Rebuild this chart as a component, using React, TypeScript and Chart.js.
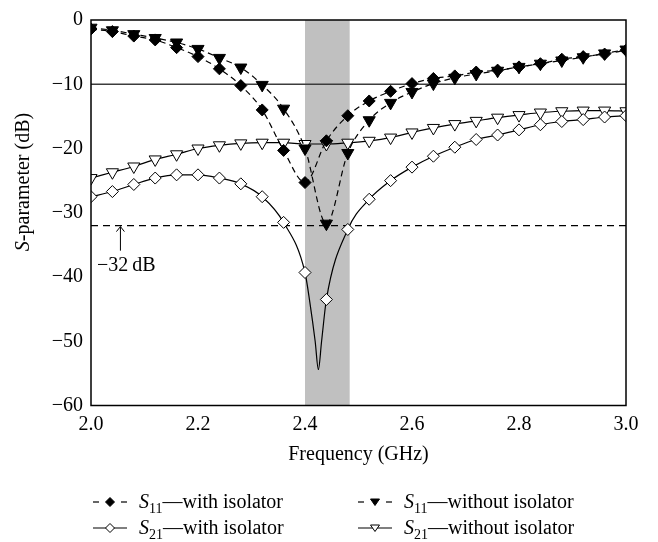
import React, { useEffect, useRef } from "react";
import { Chart, registerables } from "chart.js";

Chart.register(...registerables);

// Frequency grid of the measured markers (GHz)
const freqGHz = [
  2.0, 2.04, 2.08, 2.12, 2.16, 2.2, 2.24, 2.28, 2.32, 2.36, 2.4, 2.44, 2.48,
  2.52, 2.56, 2.6, 2.64, 2.68, 2.72, 2.76, 2.8, 2.84, 2.88, 2.92, 2.96, 3.0,
];

// S11 with isolator (dB)
const s11WithIsolator = [
  -1.4, -1.8, -2.5, -3.1, -4.3, -5.7, -7.6, -10.2, -14.0, -20.3, -25.3, -18.8,
  -14.9, -12.6, -11.1, -9.9, -9.1, -8.7, -8.1, -7.8, -7.3, -6.8, -6.1, -5.7,
  -5.3, -4.7,
];

// S11 without isolator (dB)
const s11WithoutIsolator = [
  -1.2, -1.6, -2.2, -2.8, -3.5, -4.5, -5.9, -7.4, -10.1, -13.8, -20.0, -31.7,
  -20.7, -15.6, -12.9, -11.2, -9.9, -9.0, -8.4, -7.9, -7.3, -6.8, -6.3, -5.8,
  -5.2, -4.6,
];

// S21 with isolator (dB)
const s21WithIsolator = [
  -27.5, -26.7, -25.6, -24.6, -24.1, -24.1, -24.6, -25.5, -27.5, -31.5, -39.3,
  -43.5, -32.6, -27.9, -25.0, -22.9, -21.2, -19.8, -18.6, -17.9, -17.1, -16.3,
  -15.8, -15.5, -15.1, -14.9,
];

// Extra curve samples (no markers) around the deep S21 notch
const s21NotchFreq = [2.409, 2.419, 2.425, 2.431];
const s21NotchDb = [-43.9, -50.0, -54.4, -50.0];

// S21 without isolator (dB)
const s21WithoutIsolator = [
  -24.6, -23.7, -22.8, -21.7, -20.9, -20.0, -19.5, -19.2, -19.1, -19.1, -19.3,
  -19.3, -19.1, -18.8, -18.3, -17.5, -16.8, -16.2, -15.7, -15.2, -14.8, -14.4,
  -14.2, -14.1, -14.1, -14.2,
];

// Reference levels and the ISM band
const matchLevelDb = -10;
const isolationLevelDb = -32;
const bandStartGHz = 2.4;
const bandEndGHz = 2.4835;

const yTicks = [0, -10, -20, -30, -40, -50, -60];
const xTicks = [2.0, 2.2, 2.4, 2.6, 2.8, 3.0];

const SERIF = "'Liberation Serif', 'Times New Roman', serif";

type Pt = { x: number; y: number; marker: boolean };

function buildPoints(values: number[], extraX: number[] = [], extraY: number[] = []): Pt[] {
  const pts: Pt[] = freqGHz.map((f, i) => ({ x: f, y: values[i], marker: true }));
  extraX.forEach((f, i) => pts.push({ x: f, y: extraY[i], marker: false }));
  return pts.sort((a, b) => a.x - b.x);
}

const fmtMinus = (v: number) => (v < 0 ? "\u2212" + Math.abs(v) : String(v));

const annotationPlugin = {
  id: "sparamAnnotations",
  beforeDatasetsDraw(chart: any) {
    const { ctx, chartArea, scales } = chart;
    const { left, right, top, bottom } = chartArea;
    const x = scales.x;
    const y = scales.y;
    ctx.save();
    // ISM band shading
    const bx0 = x.getPixelForValue(bandStartGHz);
    const bx1 = x.getPixelForValue(bandEndGHz);
    ctx.fillStyle = "#c0c0c0";
    ctx.fillRect(bx0, top, bx1 - bx0, bottom - top);

    // -10 dB matching level
    const y10 = y.getPixelForValue(matchLevelDb);
    ctx.strokeStyle = "#3c3c3c";
    ctx.lineWidth = 1.5;
    ctx.beginPath();
    ctx.moveTo(left, y10);
    ctx.lineTo(right, y10);
    ctx.stroke();

    // -32 dB isolation level
    const y32 = y.getPixelForValue(isolationLevelDb);
    ctx.strokeStyle = "#000";
    ctx.lineWidth = 1.2;
    ctx.setLineDash([7, 5]);
    ctx.beginPath();
    ctx.moveTo(left, y32);
    ctx.lineTo(right, y32);
    ctx.stroke();
    ctx.setLineDash([]);

    // arrow pointing at the isolation line
    const ax = x.getPixelForValue(2.055);
    const ayTail = y.getPixelForValue(-35.9);
    ctx.lineWidth = 1;
    ctx.beginPath();
    ctx.moveTo(ax, y32 + 1);
    ctx.lineTo(ax, ayTail);
    ctx.moveTo(ax - 4, y32 + 6);
    ctx.lineTo(ax, y32 + 1);
    ctx.lineTo(ax + 4, y32 + 6);
    ctx.stroke();

    ctx.fillStyle = "#000";
    ctx.font = `20px ${SERIF}`;
    ctx.textAlign = "left";
    ctx.textBaseline = "middle";
    ctx.fillText(fmtMinus(isolationLevelDb) + "\u2009dB", x.getPixelForValue(2.011), y.getPixelForValue(-38.3));
    ctx.restore();
  },
  afterDraw(chart: any) {
    const { ctx, chartArea } = chart;
    const { left, right, top, bottom } = chartArea;
    ctx.save();
    ctx.strokeStyle = "#000";
    ctx.lineWidth = 1.5;
    ctx.strokeRect(left, top, right - left, bottom - top);

    // y-axis title with italic S
    ctx.translate(24, 182);
    ctx.rotate(-Math.PI / 2);
    ctx.fillStyle = "#000";
    ctx.textBaseline = "middle";
    ctx.textAlign = "left";
    ctx.font = `italic 20px ${SERIF}`;
    const wS = ctx.measureText("S").width;
    ctx.font = `20px ${SERIF}`;
    const rest = "-parameter (dB)";
    const wR = ctx.measureText(rest).width;
    const start = -(wS + wR) / 2;
    ctx.font = `italic 20px ${SERIF}`;
    ctx.fillText("S", start, 0);
    ctx.font = `20px ${SERIF}`;
    ctx.fillText(rest, start + wS, 0);
    ctx.restore();
  },
};

function markerRadius(r: number) {
  return (c: any) => (c.raw && c.raw.marker ? r : 0);
}

function LegendSample({ dashed, marker, filled }: { dashed: boolean; marker: "diamond" | "triangle"; filled: boolean }) {
  const fill = filled ? "#000" : "#fff";
  return (
    <svg width={36} height={16} style={{ display: "block" }}>
      {dashed ? (
        <g stroke="#000" strokeWidth={1.2}>
          <line x1={1} y1={8} x2={7} y2={8} />
          <line x1={29} y1={8} x2={35} y2={8} />
        </g>
      ) : (
        <line x1={1} y1={8} x2={35} y2={8} stroke="#000" strokeWidth={1.2} />
      )}
      {marker === "diamond" ? (
        <polygon points="18,3.5 22.5,8 18,12.5 13.5,8" fill={fill} stroke="#000" strokeWidth={1} />
      ) : (
        <polygon points="13.5,5 22.5,5 18,11.5" fill={fill} stroke="#000" strokeWidth={1} />
      )}
    </svg>
  );
}

function LegendItem(props: {
  left: number;
  top: number;
  param: string;
  label: string;
  dashed: boolean;
  marker: "diamond" | "triangle";
  filled: boolean;
}) {
  return (
    <div
      style={{
        position: "absolute",
        left: props.left,
        top: props.top,
        height: 26,
        display: "flex",
        alignItems: "center",
        fontFamily: SERIF,
        fontSize: 20,
        color: "#000",
        whiteSpace: "nowrap",
      }}
    >
      <LegendSample dashed={props.dashed} marker={props.marker} filled={props.filled} />
      <span style={{ marginLeft: 11, lineHeight: "26px" }}>
        <span style={{ fontStyle: "italic" }}>S</span>
        <span style={{ fontSize: 14, position: "relative", top: 5 }}>{props.param}</span>
        {"\u2014" + props.label}
      </span>
    </div>
  );
}

export default function App() {
  const canvasRef = useRef<HTMLCanvasElement | null>(null);

  useEffect(() => {
    const canvas = canvasRef.current;
    if (!canvas) return;
    const font = { family: SERIF, size: 20 };

    const chart = new Chart(canvas, {
      type: "line",
      data: {
        datasets: [
          {
            label: "S11 with isolator",
            data: buildPoints(s11WithIsolator),
            borderColor: "#000",
            borderWidth: 1.2,
            borderDash: [6, 4],
            pointStyle: "rectRot",
            pointRadius: markerRadius(6),
            pointBackgroundColor: "#000",
            pointBorderColor: "#000",
            pointBorderWidth: 1,
            cubicInterpolationMode: "monotone",
            fill: false,
          },
          {
            label: "S11 without isolator",
            data: buildPoints(s11WithoutIsolator),
            borderColor: "#000",
            borderWidth: 1.2,
            borderDash: [6, 4],
            pointStyle: "triangle",
            rotation: 180,
            pointRadius: markerRadius(7),
            pointBackgroundColor: "#000",
            pointBorderColor: "#000",
            pointBorderWidth: 1,
            cubicInterpolationMode: "monotone",
            fill: false,
          },
          {
            label: "S21 with isolator",
            data: buildPoints(s21WithIsolator, s21NotchFreq, s21NotchDb),
            borderColor: "#000",
            borderWidth: 1.2,
            pointStyle: "rectRot",
            pointRadius: markerRadius(6),
            pointBackgroundColor: "#fff",
            pointBorderColor: "#000",
            pointBorderWidth: 1,
            cubicInterpolationMode: "monotone",
            fill: false,
          },
          {
            label: "S21 without isolator",
            data: buildPoints(s21WithoutIsolator),
            borderColor: "#000",
            borderWidth: 1.2,
            pointStyle: "triangle",
            rotation: 180,
            pointRadius: markerRadius(7),
            pointBackgroundColor: "#fff",
            pointBorderColor: "#000",
            pointBorderWidth: 1,
            cubicInterpolationMode: "monotone",
            fill: false,
          },
        ] as any,
      },
      options: {
        animation: false,
        responsive: false,
        devicePixelRatio: 1,
        layout: { padding: { top: 13, right: 32, bottom: 71, left: 0 } },
        plugins: {
          legend: { display: false },
          tooltip: { enabled: false },
        },
        scales: {
          x: {
            type: "linear",
            min: xTicks[0],
            max: xTicks[xTicks.length - 1],
            grid: { display: false, drawTicks: false },
            border: { display: false },
            afterBuildTicks: (scale: any) => {
              scale.ticks = xTicks.map((v) => ({ value: v }));
            },
            ticks: {
              padding: 7,
              color: "#000",
              font,
              maxRotation: 0,
              autoSkip: false,
              callback: (v: any) => Number(v).toFixed(1),
            },
            title: {
              display: true,
              text: "Frequency (GHz)",
              color: "#000",
              font,
              padding: { top: 4, bottom: 4 },
            },
            afterFit: (scale: any) => {
              scale.height = 65.5;
            },
          },
          y: {
            type: "linear",
            min: yTicks[yTicks.length - 1],
            max: yTicks[0],
            grid: { display: false, drawTicks: false },
            border: { display: false },
            afterBuildTicks: (scale: any) => {
              scale.ticks = yTicks.map((v) => ({ value: v }));
            },
            ticks: {
              padding: 8,
              color: "#000",
              font,
              autoSkip: false,
              callback: (v: any) => fmtMinus(Number(v)),
            },
            afterFit: (scale: any) => {
              scale.width = 91;
            },
          },
        },
      } as any,
      plugins: [annotationPlugin],
    });

    return () => chart.destroy();
  }, []);

  return (
    <div style={{ position: "fixed", left: 0, top: 0, width: 658, height: 542, background: "#fff" }}>
      <canvas ref={canvasRef} width={658} height={542} style={{ display: "block" }} />
      <LegendItem left={92} top={489} param="11" label="with isolator" dashed marker="diamond" filled />
      <LegendItem left={357} top={489} param="11" label="without isolator" dashed marker="triangle" filled />
      <LegendItem left={92} top={515} param="21" label="with isolator" dashed={false} marker="diamond" filled={false} />
      <LegendItem left={357} top={515} param="21" label="without isolator" dashed={false} marker="triangle" filled={false} />
    </div>
  );
}
